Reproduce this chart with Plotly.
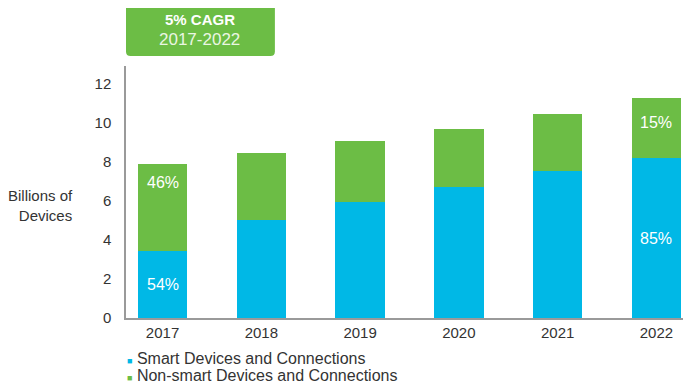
import plotly.graph_objects as go

years = ["2017", "2018", "2019", "2020", "2021", "2022"]
smart = [3.41, 5.05, 5.96, 6.73, 7.52, 8.19]
non_smart = [4.47, 3.40, 3.12, 2.98, 2.95, 3.11]
smart_share = ["54%", "", "", "", "", "85%"]
non_smart_share = ["46%", "", "", "", "", "15%"]
y_ticks = [0, 2, 4, 6, 8, 10, 12]

BLUE = "#00B8E6"
GREEN = "#6CBD45"
FONT = "Liberation Sans, Arial, sans-serif"
TXT = "#333333"

fig = go.Figure()
fig.add_trace(go.Bar(x=years, y=smart, name="Smart Devices and Connections",
                     marker=dict(color=BLUE, line=dict(width=0)), width=0.5, showlegend=False))
fig.add_trace(go.Bar(x=years, y=non_smart, name="Non-smart Devices and Connections",
                     marker=dict(color=GREEN, line=dict(width=0)), width=0.5, showlegend=False))

annotations = []
# percentage labels
for i, yr in enumerate(years):
    if smart_share[i]:
        annotations.append(dict(x=i, y=smart[i] / 2, xref="x", yref="y", text=smart_share[i],
                                showarrow=False, font=dict(color="white", size=16, family=FONT)))
    if non_smart_share[i]:
        top = smart[i] + non_smart[i]
        yy = top - 0.93 if i == 0 else top - 1.3
        annotations.append(dict(x=i, y=yy, xref="x", yref="y", text=non_smart_share[i],
                                showarrow=False, font=dict(color="white", size=16, family=FONT)))

# y axis title
annotations.append(dict(x=-0.09, y=0.448, xref="paper", yref="paper", xanchor="right", yanchor="middle",
                        align="right", text="Billions of<br>Devices", showarrow=False,
                        font=dict(color=TXT, size=15, family=FONT)))

# CAGR box text
annotations.append(dict(x=0.131, y=1.183, xref="paper", yref="paper", xanchor="center", yanchor="middle",
                        text="<b>5% CAGR</b>", showarrow=False,
                        font=dict(color="white", size=15, family=FONT)))
annotations.append(dict(x=0.131, y=1.107, xref="paper", yref="paper", xanchor="center", yanchor="middle",
                        text="2017-2022", showarrow=False,
                        font=dict(color="#EAF6E2", size=17, family=FONT)))

# legend as text
annotations.append(dict(x=-0.001, y=-0.159, xref="paper", yref="paper", xanchor="left", yanchor="middle",
                        text="<span style='color:%s;font-size:9px'>■</span> Smart Devices and Connections" % BLUE,
                        showarrow=False, font=dict(color=TXT, size=16, family=FONT)))
annotations.append(dict(x=-0.001, y=-0.230, xref="paper", yref="paper", xanchor="left", yanchor="middle",
                        text="<span style='color:%s;font-size:9px'>■</span> Non-smart Devices and Connections" % GREEN,
                        showarrow=False, font=dict(color=TXT, size=16, family=FONT)))

# rounded rectangle for CAGR box
x0, x1, y0, y1 = 0.0, 0.264, 1.04, 1.262
rx, ry = 0.008, 0.018
path = (f"M {x0+rx},{y0} L {x1-rx},{y0} Q {x1},{y0} {x1},{y0+ry} L {x1},{y1-ry} Q {x1},{y1} {x1-rx},{y1} "
        f"L {x0+rx},{y1} Q {x0},{y1} {x0},{y1-ry} L {x0},{y0+ry} Q {x0},{y0} {x0+rx},{y0} Z")

fig.update_layout(
    barmode="stack",
    width=683, height=379,
    margin=dict(l=118, r=1, t=58, b=69),
    paper_bgcolor="white", plot_bgcolor="white",
    annotations=annotations,
    shapes=[dict(type="path", path=path, xref="paper", yref="paper",
                 fillcolor=GREEN, line=dict(width=0), layer="below")],
    xaxis=dict(type="category", range=[-0.37, 5.34], showgrid=False, showline=True, linecolor="#9a9a9a",
               linewidth=1.5, ticks="", tickfont=dict(size=15, color=TXT, family=FONT), ticklabelstandoff=0),
    yaxis=dict(range=[0, 12.92], tickvals=y_ticks, showgrid=False, showline=True, linecolor="#9a9a9a",
               linewidth=1.5, ticks="", zeroline=False,
               tickfont=dict(size=15, color=TXT, family=FONT), ticklabelstandoff=10),
    showlegend=False,
)

fig.write_html("out.html")
